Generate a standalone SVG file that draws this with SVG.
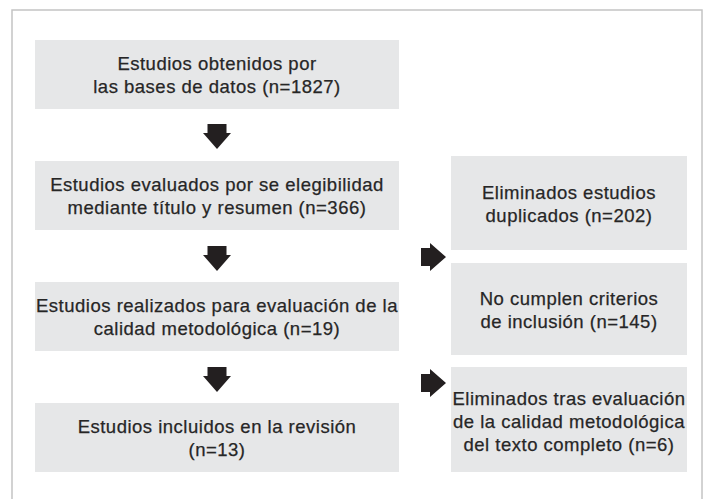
<svg xmlns="http://www.w3.org/2000/svg" width="707" height="499" viewBox="0 0 707 499">
<style>
.box{fill:#e6e7e8}
.t{font-family:"Liberation Sans",Arial,sans-serif;font-size:18.5px;fill:#262626;stroke:#262626;stroke-width:0.25px;text-anchor:middle;letter-spacing:0.5px}
.arr{fill:#231f20}
</style>
<rect x="0" y="0" width="707" height="499" fill="#ffffff"/>
<rect x="12" y="10" width="690" height="520" fill="none" stroke="#c4c4c4" stroke-width="1.5"/>
<g id="n1"><rect class="box" x="35" y="40" width="364" height="69"/>
<text class="t" x="217" y="70">Estudios obtenidos por</text>
<text class="t" x="217" y="93">las bases de datos (n=1827)</text></g>
<g id="n2"><rect class="box" x="35" y="161" width="364" height="69"/>
<text class="t" x="217" y="191">Estudios evaluados por se elegibilidad</text>
<text class="t" x="217" y="214">mediante título y resumen (n=366)</text></g>
<g id="n3"><rect class="box" x="35" y="282" width="364" height="69"/>
<text class="t" x="217" y="312">Estudios realizados para evaluación de la</text>
<text class="t" x="217" y="335">calidad metodológica (n=19)</text></g>
<g id="n4"><rect class="box" x="35" y="403" width="364" height="69"/>
<text class="t" x="217" y="433">Estudios incluidos en la revisión</text>
<text class="t" x="217" y="456">(n=13)</text></g>
<g id="n5"><rect class="box" x="451" y="156" width="236" height="94"/>
<text class="t" x="569" y="198.5">Eliminados estudios</text>
<text class="t" x="569" y="221.5">duplicados (n=202)</text></g>
<g id="n6"><rect class="box" x="451" y="263" width="236" height="92"/>
<text class="t" x="569" y="304.5">No cumplen criterios</text>
<text class="t" x="569" y="327.5">de inclusión (n=145)</text></g>
<g id="n7"><rect class="box" x="451" y="367" width="236" height="105"/>
<text class="t" x="569" y="405">Eliminados tras evaluación</text>
<text class="t" x="569" y="428">de la calidad metodológica</text>
<text class="t" x="569" y="451">del texto completo (n=6)</text></g>
<g id="connectors">
<polygon class="arr" points="207.5,124 226.5,124 226.5,133 231,133 217,149 203,133 207.5,133"/>
<polygon class="arr" points="207.5,246 226.5,246 226.5,255 231,255 217,271 203,255 207.5,255"/>
<polygon class="arr" points="207.5,367 226.5,367 226.5,376 231,376 217,392 203,376 207.5,376"/>
<polygon class="arr" points="421,248 430,248 430,243 446,257 430,271 430,266 421,266"/>
<polygon class="arr" points="421,374 430,374 430,369 446,383 430,397 430,392 421,392"/>
</g>
</svg>
